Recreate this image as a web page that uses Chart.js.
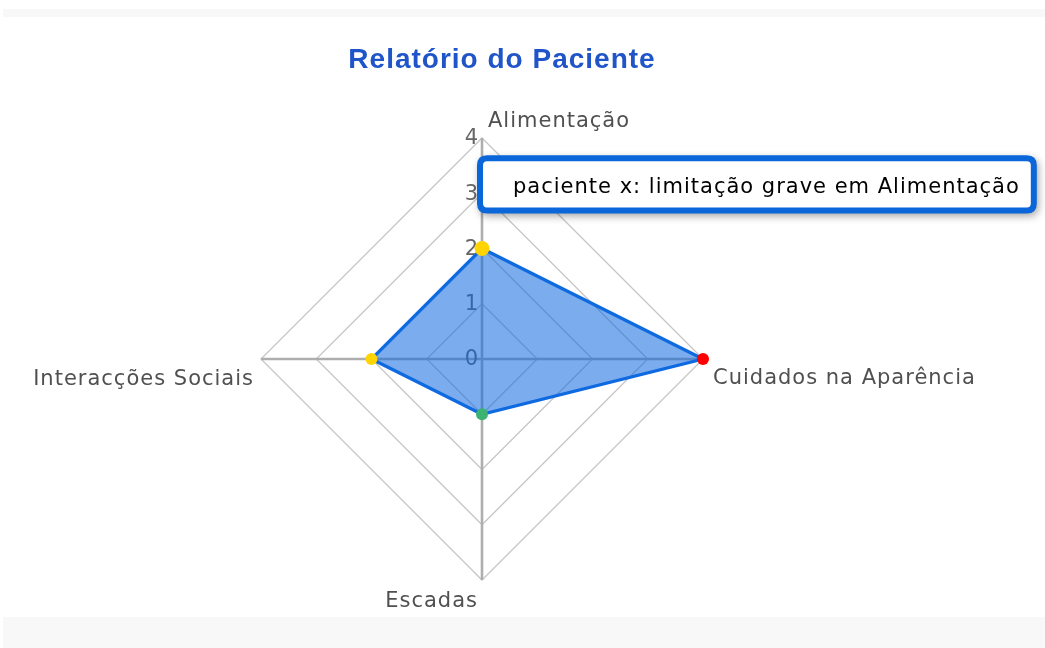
<!DOCTYPE html>
<html lang="pt">
<head>
<meta charset="utf-8">
<title>Relatório do Paciente</title>
<script src="https://cdn.jsdelivr.net/npm/chart.js@4.4.1/dist/chart.umd.min.js"></script>
<style>
  html, body { margin: 0; padding: 0; background: #ffffff; }
  #wrap { position: relative; width: 1045px; height: 648px; overflow: hidden; }
  .band { position: absolute; left: 3px; right: 0; background: #f8f8f8; }
  #bandTop { top: 9px; height: 8px; }
  #bandBottom { top: 617px; height: 31px; }
  canvas { position: absolute; left: 0; top: 0; }
</style>
</head>
<body>
<div id="wrap">
  <div class="band" id="bandTop"></div>
  <div class="band" id="bandBottom"></div>
  <canvas id="c" width="1045" height="648"></canvas>
</div>
<script>
// ---- data ----
const chartTitle = 'Relatório do Paciente';
const seriesName = 'paciente x';
const categories = ['Alimentação', 'Cuidados na Aparência', 'Escadas', 'Interacções Sociais'];
const values = [2, 4, 1, 2];
const tickValues = [0, 1, 2, 3, 4];
const severityText = ['sem limitação', 'limitação ligeira', 'limitação grave', 'limitação muito grave', 'limitação total'];
const levelColors = ['#3cb371', '#3cb371', '#ffd400', '#ff8c00', '#ff0000'];
const activeIndex = 0;

// ---- style ----
const FONT = '"DejaVu Sans", Verdana, sans-serif';
const LETTER_SPACING = '1px';
const CENTER_SHIFT = -20;
const LABEL_STYLE = [
  { align: 'left',  dx: 6,  dy: -11 },
  { align: 'left',  dx: 10, dy: 25 },
  { align: 'right', dx: -4, dy: 27 },
  { align: 'right', dx: -7, dy: 26 }
];

Chart.Tooltip.positioners.pinned = function (items) {
  if (!items.length) return false;
  const el = items[0].element;
  return { x: el.x + 5, y: el.y - 38 };
};

const spacingPlugin = {
  id: 'spacing',
  beforeUpdate(chart) { chart.ctx.letterSpacing = LETTER_SPACING; },
  beforeLayout(chart) { chart.ctx.letterSpacing = LETTER_SPACING; },
  beforeDraw(chart) { chart.ctx.letterSpacing = LETTER_SPACING; }
};

const labelsPlugin = {
  id: 'radarText',
  beforeDatasetsDraw(chart) {
    const s = chart.scales.r;
    const ctx = chart.ctx;
    ctx.save();
    ctx.font = '21px ' + FONT;
    // tick labels
    ctx.fillStyle = '#666666';
    ctx.textAlign = 'right';
    ctx.textBaseline = 'middle';
    s.ticks.forEach(t => {
      const y = s.yCenter - s.getDistanceFromCenterForValue(t.value);
      ctx.fillText(String(t.label), s.xCenter - 3, y + 1);
    });
    // category labels
    ctx.fillStyle = '#505050';
    ctx.textBaseline = 'alphabetic';
    chart.data.labels.forEach((lab, i) => {
      const p = s.getPointPositionForValue(i, s.max);
      const st = LABEL_STYLE[i];
      ctx.textAlign = st.align;
      ctx.fillText(lab, p.x + st.dx, p.y + st.dy);
    });
    ctx.restore();
  },
  beforeTooltipDraw(chart, args) {
    const tt = args.tooltip;
    if (!tt || !tt.opacity) return;
    const ctx = chart.ctx;
    ctx.save();
    ctx.shadowColor = 'rgba(0,0,0,0.4)';
    ctx.shadowBlur = 8;
    ctx.shadowOffsetX = 2;
    ctx.shadowOffsetY = 3;
    ctx.fillStyle = '#ffffff';
    ctx.beginPath();
    ctx.roundRect(tt.x - 2, tt.y - 2, tt.width + 4, tt.height + 4, 7);
    ctx.fill();
    ctx.restore();
  }
};

const pointColor = (ctx) => levelColors[ctx.raw] || levelColors[0];

const chart = new Chart(document.getElementById('c'), {
  type: 'radar',
  data: {
    labels: categories,
    datasets: [{
      label: seriesName,
      data: values,
      borderColor: '#0f6ae0',
      backgroundColor: 'rgba(15,106,224,0.55)',
      borderWidth: 3.3,
      fill: true,
      pointRadius: 6,
      pointHoverRadius: 7.5,
      pointBorderWidth: 0,
      pointHoverBorderWidth: 0,
      pointBackgroundColor: pointColor,
      pointHoverBackgroundColor: pointColor,
      tension: 0
    }]
  },
  options: {
    responsive: false,
    animation: false,
    events: [],
    layout: { padding: { left: 0, right: 41, top: 0, bottom: 68 } },
    scales: {
      r: {
        min: tickValues[0],
        max: tickValues[tickValues.length - 1],
        ticks: { display: false, stepSize: 1 },
        pointLabels: { display: false },
        grid: { color: '#c6c6c6', lineWidth: 1.3 },
        angleLines: { color: '#aeaeae', lineWidth: 2.6 },
        afterFit(scale) { scale.xCenter += CENTER_SHIFT; }
      }
    },
    plugins: {
      legend: { display: false },
      title: {
        display: true,
        text: chartTitle,
        color: '#1f55c8',
        font: { family: '"Liberation Sans", Arial, sans-serif', size: 28, weight: 'bold' },
        padding: { top: 43, bottom: 61.4 }
      },
      tooltip: {
        enabled: true,
        position: 'pinned',
        xAlign: 'left',
        yAlign: 'bottom',
        caretSize: 0,
        caretPadding: 0,
        backgroundColor: '#ffffff',
        borderColor: '#0b66d9',
        borderWidth: 6,
        cornerRadius: 7,
        displayColors: false,
        bodyColor: '#000000',
        bodyFont: { family: FONT, size: 21 },
        padding: { left: 33, right: 14, top: 17, bottom: 10 },
        callbacks: {
          title: () => '',
          label: (c) => c.dataset.label + ': ' + severityText[c.raw] + ' em ' + c.label
        }
      }
    }
  },
  plugins: [spacingPlugin, labelsPlugin]
});

chart.ctx.letterSpacing = LETTER_SPACING;
chart.setActiveElements([{ datasetIndex: 0, index: activeIndex }]);
chart.tooltip.setActiveElements([{ datasetIndex: 0, index: activeIndex }], { x: 0, y: 0 });
chart.draw();
</script>
</body>
</html>
